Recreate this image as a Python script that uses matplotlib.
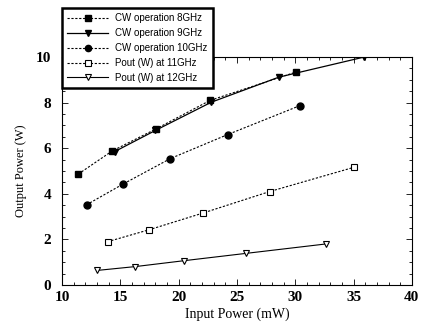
import matplotlib
matplotlib.use('Agg')
from matplotlib import pyplot as plt
from matplotlib.ticker import MultipleLocator

# data (input mW, output W)
x_8 = [11.4, 14.3, 18.1, 22.7, 30.1]
y_8 = [4.87, 5.88, 6.86, 8.10, 9.35]

x_9 = [14.5, 18.0, 22.8, 28.6, 35.9]
y_9 = [5.85, 6.78, 8.02, 9.12, 10.0]

x_10 = [12.1, 15.2, 19.3, 24.2, 30.4]
y_10 = [3.52, 4.42, 5.55, 6.60, 7.87]

x_11 = [13.9, 17.5, 22.1, 27.8, 35.0]
y_11 = [1.90, 2.43, 3.16, 4.10, 5.16]

x_12 = [13.0, 16.3, 20.5, 25.8, 32.6]
y_12 = [0.64, 0.81, 1.07, 1.39, 1.80]

labels = ['CW operation 8GHz', 'CW operation 9GHz', 'CW operation 10GHz',
          'Pout (W) at 11GHz', 'Pout (W) at 12GHz']

fig = plt.figure(figsize=(4.22, 3.28), dpi=100)
ax = fig.add_axes([0.147, 0.131, 0.829, 0.695])

ax.plot(x_8, y_8, color='black', linestyle=(0, (2, 1.5)), linewidth=0.8,
        marker='s', markersize=5, label=labels[0])
ax.plot(x_9, y_9, color='black', linestyle='solid', linewidth=0.9,
        marker='v', markersize=5, label=labels[1])
ax.plot(x_10, y_10, color='black', linestyle=(0, (2, 1.5)), linewidth=0.8,
        marker='o', markersize=5, label=labels[2])
ax.plot(x_11, y_11, color='black', linestyle=(0, (2, 1.5)), linewidth=0.8,
        marker='s', markersize=5, markerfacecolor='white', markeredgewidth=0.8, label=labels[3])
ax.plot(x_12, y_12, color='black', linestyle='solid', linewidth=0.8,
        marker='v', markersize=5, markerfacecolor='white', markeredgewidth=0.8, label=labels[4])

ax.set_xlim(10, 40)
ax.set_ylim(0, 10)
ax.xaxis.set_major_locator(MultipleLocator(5))
ax.xaxis.set_minor_locator(MultipleLocator(1))
ax.yaxis.set_major_locator(MultipleLocator(2))
ax.yaxis.set_minor_locator(MultipleLocator(0.5))
ax.tick_params(which='both', direction='in', top=True, right=True, width=0.6)
ax.tick_params(which='major', length=4)
ax.tick_params(which='minor', length=2)
ax.tick_params(axis='y', which='major', pad=8)
ax.tick_params(axis='x', which='major', pad=4)
for lab in ax.get_xticklabels() + ax.get_yticklabels():
    lab.set_fontfamily('Liberation Serif')
    lab.set_fontweight('bold')
    lab.set_fontsize(11)
for side in ['left', 'bottom', 'top']:
    ax.spines[side].set_linestyle((0, (1, 1)))
    ax.spines[side].set_linewidth(0.8)
ax.spines['right'].set_linewidth(0.8)

ax.set_xlabel('Input Power (mW)', family='Liberation Serif', fontsize=10, labelpad=3)
ax.set_ylabel('Output Power (W)', family='Liberation Serif', fontsize=9, labelpad=6)

leg = fig.legend(loc='upper left', bbox_to_anchor=(62 / 422, 1 - 8 / 328),
                 borderaxespad=0,
                 prop={'family': 'Liberation Sans', 'size': 7},
                 frameon=True, fancybox=False, handlelength=4.2,
                 labelspacing=0.5, borderpad=0.55, handletextpad=0.7,
                 markerscale=0.9)
leg.get_frame().set_edgecolor('black')
leg.get_frame().set_linewidth(1.8)
leg.get_frame().set_alpha(1)

fig.savefig('out.png', dpi=100)
plt.close()
